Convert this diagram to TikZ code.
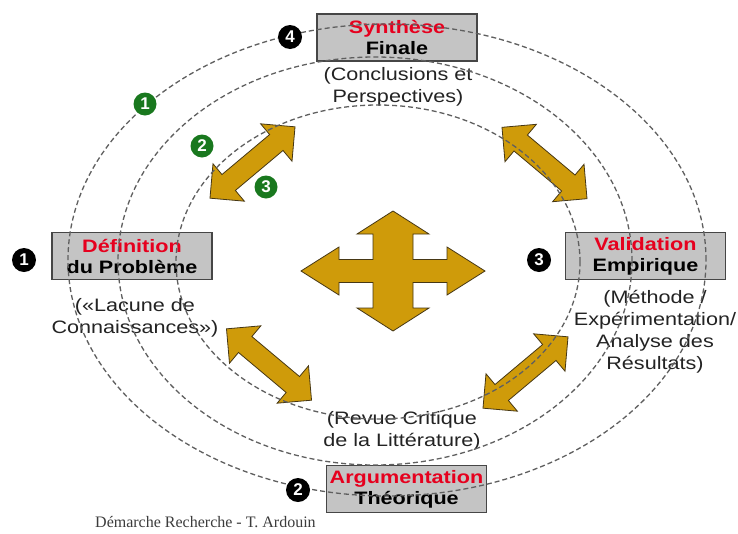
\documentclass[tikz,border=0pt]{standalone}
\usepackage{fontspec}
\setmainfont{Liberation Sans}
\newfontfamily\creditfont{Liberation Serif}
\usetikzlibrary{shapes.arrows}

\definecolor{boxred}{RGB}{230,0,30}
\definecolor{boxgray}{RGB}{196,196,196}
\definecolor{boxedge}{RGB}{70,70,70}
\definecolor{notegray}{RGB}{35,35,35}
\definecolor{orbitgray}{RGB}{95,95,95}
\definecolor{arrowgold}{RGB}{207,155,10}
\definecolor{arrowedge}{RGB}{70,55,20}
\definecolor{stepgreen}{RGB}{25,120,30}
\definecolor{creditgray}{RGB}{60,60,60}

\begin{document}
\begin{tikzpicture}[x=1pt, y=-1pt,
        wide/.style={xscale=1.2, transform shape},
        stagebox/.style={wide, rectangle, draw=boxedge, fill=boxgray, line width=1.2pt,
            minimum width=133.3pt, minimum height=47pt, inner sep=0pt, align=center,
            font=\fontsize{18}{21}\selectfont\bfseries},
        note/.style={wide, align=center, text=notegray, inner sep=0pt,
            font=\fontsize{18}{22}\selectfont},
        orbit/.style={draw=orbitgray, line width=1.3pt, dash pattern=on 5pt off 3pt},
        blacknum/.style={circle, fill=black, text=white, minimum size=24pt, inner sep=0pt,
            font=\fontsize{17}{17}\selectfont\bfseries},
        greennum/.style={blacknum, fill=stepgreen, minimum size=23pt},
        linkarrow/.style={double arrow, draw=arrowedge, fill=arrowgold, line width=0.8pt,
            minimum height=111pt, inner xsep=0pt, inner ysep=10pt,
            double arrow head extend=14pt, double arrow tip angle=90},
        crossarrow/.style={draw=arrowedge, fill=arrowgold, line width=0.8pt, line join=miter}]
        \path[use as bounding box, fill=white] (0,0) rectangle (738,533);

        % Central arrow
        \draw[crossarrow, shift={(393,271)}] (92,0) -- (54,-24) -- (54,-11.5) -- (20,-11.5)
            -- (20,-37) -- (36,-37) -- (0,-60) -- (-36,-37) -- (-20,-37) -- (-20,-11.5)
            -- (-54,-11.5) -- (-54,-24) -- (-92,0) -- (-54,24) -- (-54,11.5) -- (-20,11.5)
            -- (-20,37) -- (-36,37) -- (0,60) -- (36,37) -- (20,37) -- (20,11.5)
            -- (54,11.5) -- (54,24) -- cycle;

        % Double arrows
        \node[linkarrow, rotate=40] (arrTL) at (252.5,162.5) {};
        \node[linkarrow, rotate=-40] (arrTR) at (544.5,163) {};
        \node[linkarrow, rotate=-40] (arrBL) at (269,364.5) {};
        \node[linkarrow, rotate=40] (arrBR) at (525.5,372.5) {};

        % Draw nodes
        \node[stagebox] (synth) at (397,37.5) {\textcolor{boxred}{Synthèse}\\Finale};
        \node[stagebox] (defin) at (132,256) {\textcolor{boxred}{Définition}\\du Problème};
        \node[stagebox] (valid) at (645.5,256) {\textcolor{boxred}{Validation}\\Empirique};
        \node[stagebox] (argum) at (406.5,489) {\textcolor{boxred}{Argumentation}\\Théorique};

        % Labels
        \node[note] (synthnote) at (398,87) {(Conclusions et\\Perspectives)};
        \node[note] (definnote) at (135,317.5) {(«Lacune de\\Connaissances»)};
        \node[note] (validnote) at (655,332) {(Méthode /\\Expérimentation/\\Analyse des\\Résultats)};
        \node[note] (argumnote) at (402,431) {(Revue Critique\\de la Littérature)};

        % Draw orbits
        \draw[orbit] (387,260) ellipse [x radius=319pt, y radius=236pt];
        \draw[orbit] (375,261) ellipse [x radius=257pt, y radius=204pt];
        \draw[orbit] (378,262) ellipse [x radius=202pt, y radius=157pt];

        % Numbers
        \node[blacknum] (n1) at (24,260) {1};
        \node[blacknum] (n2) at (298,490) {2};
        \node[blacknum] (n3) at (539,260) {3};
        \node[blacknum] (n4) at (290,37) {4};
        \node[greennum] (g1) at (145,104) {1};
        \node[greennum] (g2) at (202,146) {2};
        \node[greennum] (g3) at (266,187) {3};

        \node[anchor=west, text=creditgray, inner sep=0pt,
            font=\creditfont\fontsize{16}{16}\selectfont] (credit) at (95,522)
            {Démarche Recherche - T. Ardouin};
    \end{tikzpicture}
\end{document}
